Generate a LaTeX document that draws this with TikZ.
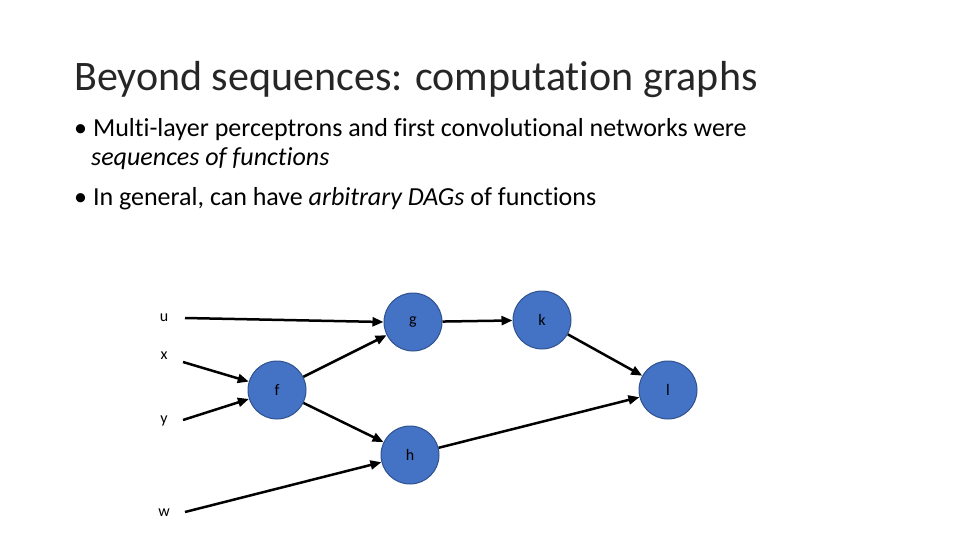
\documentclass[tikz,border=0pt]{standalone}
\usepackage{fontspec}
\setmainfont{Carlito}[Ligatures=NoCommon]
\usetikzlibrary{arrows.meta}
\definecolor{nodeblue}{HTML}{4472C4}
\definecolor{nodeedge}{HTML}{2F528F}
\begin{document}
\begin{tikzpicture}[x=1pt,y=-1pt,
  fn/.style={circle,fill=nodeblue,draw=nodeedge,line width=1pt,minimum size=58pt,inner sep=0pt,font=\fontsize{16}{18}\selectfont,text=black},
  lbl/.style={font=\fontsize{16}{18}\selectfont,inner sep=1pt},
  txt/.style={anchor=west,font=\fontsize{26}{30}\selectfont,inner sep=0pt},
  arr/.style={line width=2.5pt,-{Triangle[length=11pt,width=9pt]}}]
\useasboundingbox (0,0) rectangle (960,540);
\node[anchor=west,font=\fontsize{42}{46}\selectfont,text=black!85,inner sep=0pt] (title) at (74,80) {Beyond sequences: computation graphs};
\node[txt] (b1) at (74,130) {\textbullet\ Multi-layer perceptrons and first convolutional networks were};
\node[txt] (b2) at (91,159) {\textit{sequences of functions}};
\node[txt] (b3) at (74,199) {\textbullet\ In general, can have \textit{arbitrary DAGs} of functions};
\node[fn] (g) at (413,322) {g};
\node[fn] (k) at (542,320) {k};
\node[fn] (f) at (277,390) {f};
\node[fn] (l) at (668,390) {l};
\node[fn] (h) at (410,455) {h};
\node[lbl] (u) at (164,318) {u};
\node[lbl] (x) at (164,356) {x};
\node[lbl] (y) at (164,421) {y};
\node[lbl] (w) at (164,513) {w};
\coordinate (us) at (185,318);
\coordinate (xs) at (183,362);
\coordinate (ys) at (183,420);
\coordinate (ws) at (185,512);
\draw[arr] (us) -- (g.west);
\draw[arr] (xs) -- (f);
\draw[arr] (ys) -- (f);
\draw[arr] (f) -- (g);
\draw[arr] (f) -- (h);
\draw[arr] (ws) -- (h);
\draw[arr] (g) -- (k);
\draw[arr] (k) -- (l);
\draw[arr] (h) -- (l);
\end{tikzpicture}
\end{document}
